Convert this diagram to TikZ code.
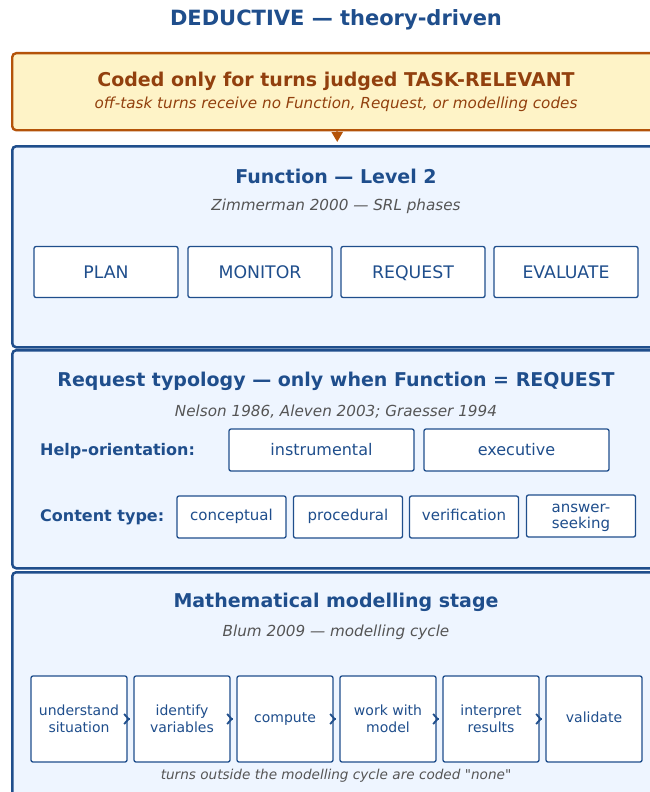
\documentclass[tikz,border=0pt]{standalone}
\usepackage{fontspec}
\setmainfont{DejaVu Sans}[Ligatures=TeXOff]
\usetikzlibrary{arrows.meta}
\definecolor{pblue}{RGB}{31,78,140}
\definecolor{pfill}{RGB}{238,245,255}
\definecolor{oborder}{RGB}{180,83,9}
\definecolor{ofill}{RGB}{254,243,199}
\definecolor{otext}{RGB}{146,64,14}
\definecolor{subgray}{RGB}{85,85,85}
\tikzset{
  panel/.style={draw=pblue, fill=pfill, line width=2.5pt, rounded corners=4pt, anchor=north west, inner sep=0pt},
  notebox/.style={draw=oborder, fill=ofill, line width=2.4pt, rounded corners=4pt, anchor=north west, inner sep=0pt},
  cbox/.style={draw=pblue, fill=white, line width=1.3pt, rounded corners=2pt, text=pblue, inner sep=0pt, align=center},
  ptitle/.style={text=pblue, font=\fontsize{19}{22}\selectfont\bfseries},
  psub/.style={text=subgray, font=\fontsize{15.2}{18}\selectfont\itshape},
  rowlabel/.style={text=pblue, font=\fontsize{16}{18}\selectfont\bfseries, anchor=west, inner sep=0pt},
  oneline/.style={text height=10.5pt, text depth=3.3pt},
  cycarrow/.style={draw=pblue, line width=1.3pt, shorten >=3.5pt, shorten <=2pt, -{Straight Barb[length=4.5pt,width=10pt,line width=1.8pt]}},
}
\begin{document}
\begin{tikzpicture}[x=1pt,y=-1pt]
\useasboundingbox (0,0) rectangle (650,792);
\clip (0,0) rectangle (650,792);
\fill[white] (0,0) rectangle (650,792);

\node[text=pblue, font=\fontsize{21}{25}\selectfont\bfseries] (title) at (336,19.5) {DEDUCTIVE — theory-driven};

% note box
\node[notebox, minimum width=650pt, minimum height=77pt] (obox) at (11,52) {};
\node[text=otext, font=\fontsize{19}{22}\selectfont\bfseries] (otitle) at (336,81.5) {Coded only for turns judged TASK-RELEVANT};
\node[text=otext, font=\fontsize{15.2}{18}\selectfont\itshape] (osub) at (336,104.5) {off-task turns receive no Function, Request, or modelling codes};

% function panel
\node[panel, minimum width=650pt, minimum height=201pt] (fpanel) at (11,145) {};
\draw[oborder, line width=2pt, shorten >=3pt, -{Triangle[length=10pt,width=11pt]}] (obox.south) -- (fpanel.north);
\node[ptitle] (ftitle) at (336,176.5) {Function — Level 2};
\node[psub] (fsub) at (336,206.5) {Zimmerman 2000 — SRL phases};
\begin{scope}[every node/.style={cbox, minimum width=144pt, minimum height=51pt, text height=12.6pt, text depth=0pt, font=\fontsize{17.3}{20}\selectfont}]
\node (plan) at (106,272) {PLAN};
\node (monitor) at (260,272) {MONITOR};
\node (request) at (413,272) {REQUEST};
\node (evaluate) at (566,272) {EVALUATE};
\end{scope}

% request panel
\node[panel, minimum width=650pt, minimum height=218pt] (rpanel) at (11,349) {};
\node[ptitle] (rtitle) at (336,381.5) {Request typology — only when Function = REQUEST};
\node[psub] (rsub) at (336,411.5) {Nelson 1986, Aleven 2003; Graesser 1994};
\node[rowlabel] (help) at (40,451) {Help-orientation:};
\begin{scope}[every node/.style={cbox, minimum width=185pt, minimum height=42pt, font=\fontsize{16}{19}\selectfont}]
\node (instr) at (321.5,450) {instrumental};
\node (exec) at (516.5,450) {executive};
\end{scope}
\node[rowlabel] (content) at (40,517) {Content type:};
\begin{scope}[every node/.style={cbox, minimum width=109pt, minimum height=42pt, text height=11pt, text depth=3.5pt, font=\fontsize{15}{16}\selectfont}]
\node (concept) at (231.5,517) {conceptual};
\node (proced) at (348,517) {procedural};
\node (verif) at (464,517) {verification};
\end{scope}
\node[cbox, minimum width=109pt, minimum height=42pt] (answer) at (581,516) {};
\node[text=pblue, align=center, font=\fontsize{15}{16}\selectfont, inner sep=0pt] (answertxt) at (581,518) {answer-\\seeking};

% modelling panel
\node[panel, minimum width=650pt, minimum height=240pt] (mpanel) at (11,571) {};
\node[ptitle] (mtitle) at (336,602.5) {Mathematical modelling stage};
\node[psub] (msub) at (336,632.5) {Blum 2009 — modelling cycle};
\begin{scope}[every node/.style={cbox, minimum width=96pt, minimum height=86pt, font=\fontsize{14}{17}\selectfont}]
\node (m1) at (79,719) {understand\\situation};
\node (m2) at (182,719) {identify\\variables};
\node[oneline] (m3) at (285,719) {compute};
\node (m4) at (388,719) {work with\\model};
\node (m5) at (491,719) {interpret\\results};
\node[oneline] (m6) at (594,719) {validate};
\end{scope}
\draw[cycarrow] (m1) -- (m2);
\draw[cycarrow] (m2) -- (m3);
\draw[cycarrow] (m3) -- (m4);
\draw[cycarrow] (m4) -- (m5);
\draw[cycarrow] (m5) -- (m6);
\node[text=subgray, font=\fontsize{13.6}{16}\selectfont\itshape] (mnote) at (336,776) {turns outside the modelling cycle are coded "none"};
\end{tikzpicture}
\end{document}
